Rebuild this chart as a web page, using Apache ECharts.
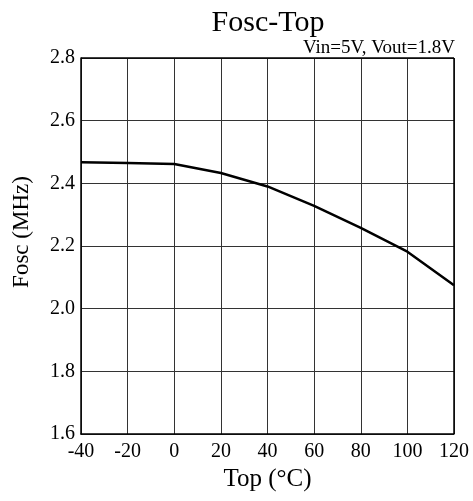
<!DOCTYPE html>
<html><head><meta charset="utf-8">
<script src="https://cdn.jsdelivr.net/npm/echarts@6/dist/echarts.min.js"></script>
<style>html,body{margin:0;padding:0;background:#fff}#c{width:473px;height:501px}</style>
</head><body><div id="c"></div>
<script>
const temps = [-40, -20, 0, 20, 40, 60, 80, 100, 120];
const fosc = [2.467, 2.465, 2.462, 2.433, 2.39, 2.328, 2.258, 2.182, 2.075];
const yTicks = ['1.6', '1.8', '2.0', '2.2', '2.4', '2.6', '2.8'];
const font = '"Liberation Serif", "Times New Roman", serif';
const chart = echarts.init(document.getElementById('c'));
chart.setOption({
  animation: false,
  backgroundColor: '#fff',
  title: [
    { text: 'Fosc-Top', left: 263, textAlign: 'center', top: 3,
      textStyle: { fontFamily: font, fontSize: 30, fontWeight: 'normal', color: '#000' } },
    { text: 'Vin=5V, Vout=1.8V', right: 13, top: 34,
      textStyle: { fontFamily: font, fontSize: 19, fontWeight: 'normal', color: '#000' } }
  ],
  grid: { left: 81, right: 19, top: 58, bottom: 67, containLabel: false },
  xAxis: {
    type: 'value', min: -40, max: 120, interval: 20,
    name: 'Top (°C)', nameLocation: 'middle', nameGap: 31,
    nameTextStyle: { fontFamily: font, fontSize: 25, color: '#000' },
    axisLine: { show: true, onZero: false, lineStyle: { color: '#000', width: 1.5 } },
    axisTick: { show: false },
    axisLabel: { fontFamily: font, fontSize: 20, color: '#000', margin: 8 },
    splitLine: { show: true, lineStyle: { color: '#333', width: 1 } }
  },
  yAxis: {
    type: 'value', min: 1.6, max: 2.8, interval: 0.2,
    name: 'Fosc (MHz)', nameLocation: 'middle', nameGap: 48, nameRotate: 90,
    nameTextStyle: { fontFamily: font, fontSize: 23, color: '#000', padding: [0, 0, 0, 28] },
    axisLine: { show: true, onZero: false, lineStyle: { color: '#000', width: 1.5 } },
    axisTick: { show: false },
    axisLabel: { fontFamily: font, fontSize: 20, color: '#000', margin: 6,
      formatter: v => yTicks.find(t => Math.abs(parseFloat(t) - v) < 1e-6) || '' },
    splitLine: { show: true, lineStyle: { color: '#333', width: 1 } }
  },
  series: [{
    type: 'line', data: temps.map((t, i) => [t, fosc[i]]),
    showSymbol: false, lineStyle: { color: '#000', width: 2.5 }
  }, {
    type: 'line', data: [], markLine: { silent: true, symbol: 'none', label: { show: false },
      lineStyle: { color: '#000', width: 1.5, type: 'solid' },
      data: [{ xAxis: 120 }, { yAxis: 2.8 }] }
  }]
});
</script></body></html>
